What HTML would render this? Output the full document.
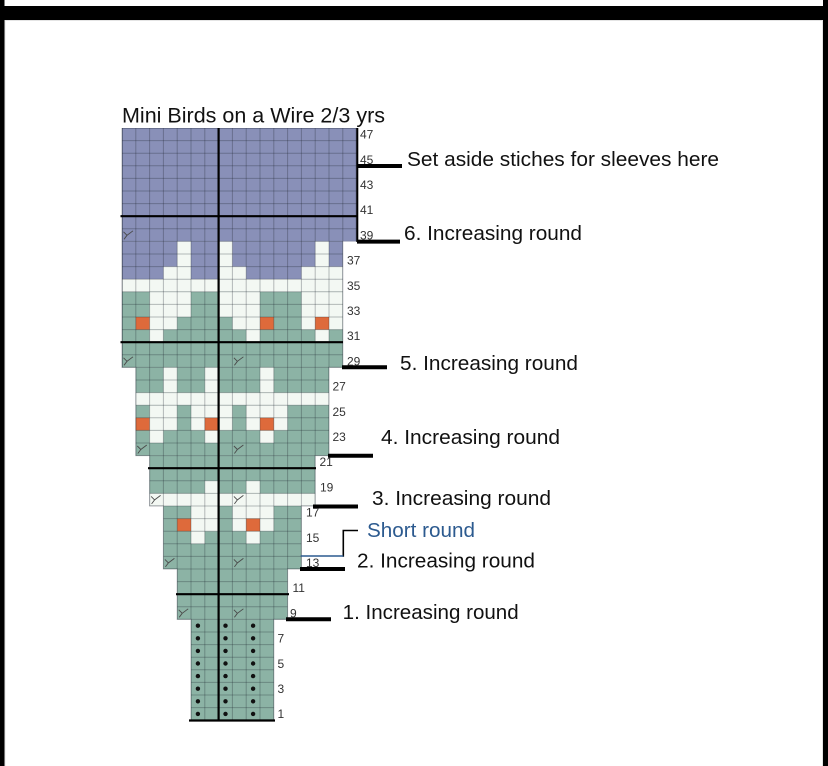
<!DOCTYPE html>
<html><head><meta charset="utf-8"><style>html,body{margin:0;padding:0;background:#fff;width:828px;height:766px;overflow:hidden}svg{display:block}</style></head>
<body>
<svg width="828" height="766" viewBox="0 0 828 766" xmlns="http://www.w3.org/2000/svg" font-family="'Liberation Sans', Arial, sans-serif">
<defs>
<clipPath id="chart">
<rect x="122" y="128" width="234.6" height="113.4"/>
<rect x="122" y="241.4" width="220.8" height="126"/>
<rect x="135.8" y="367.4" width="193.2" height="88.2"/>
<rect x="149.6" y="455.6" width="165.6" height="50.4"/>
<rect x="163.4" y="506" width="138" height="63"/>
<rect x="177.2" y="569" width="110.4" height="50.4"/>
<rect x="191" y="619.4" width="82.8" height="100.8"/>
</clipPath>
</defs>
<rect width="828" height="766" fill="#fff"/>
<rect x="0" y="0" width="4.5" height="766" fill="#000"/>
<rect x="823" y="0" width="5" height="766" fill="#000"/>
<rect x="0" y="6" width="828" height="14" fill="#000"/>
<rect x="5" y="20.5" width="817.5" height="746" fill="none" stroke="#e4e4e4" stroke-width="1"/>

<!-- base blocks -->
<g>
<rect x="122" y="128" width="234.6" height="113.4" fill="#8990b8"/>
<rect x="122" y="241.4" width="220.8" height="37.8" fill="#8990b8"/>
<rect x="122" y="279.2" width="220.8" height="12.6" fill="#f3f8f3"/>
<rect x="122" y="291.8" width="220.8" height="75.6" fill="#8cb3a5"/>
<rect x="135.8" y="367.4" width="193.2" height="88.2" fill="#8cb3a5"/>
<rect x="149.6" y="455.6" width="165.6" height="50.4" fill="#8cb3a5"/>
<rect x="163.4" y="506" width="138" height="63" fill="#8cb3a5"/>
<rect x="177.2" y="569" width="110.4" height="50.4" fill="#8cb3a5"/>
<rect x="191" y="619.4" width="82.8" height="100.8" fill="#8cb3a5"/>
</g>
<!-- white cells -->
<g fill="#f3f8f3">
<rect x="177.2" y="241.4" width="13.8" height="25.2"/>
<rect x="218.6" y="241.4" width="13.8" height="25.2"/>
<rect x="315.2" y="241.4" width="13.8" height="25.2"/>
<rect x="163.4" y="266.6" width="27.6" height="12.6"/>
<rect x="218.6" y="266.6" width="27.6" height="12.6"/>
<rect x="301.4" y="266.6" width="41.4" height="12.6"/>
<rect x="149.6" y="291.8" width="41.4" height="25.2"/>
<rect x="218.6" y="291.8" width="41.4" height="25.2"/>
<rect x="301.4" y="291.8" width="41.4" height="25.2"/>
<rect x="149.6" y="317" width="27.6" height="12.6"/>
<rect x="232.4" y="317" width="27.6" height="12.6"/>
<rect x="301.4" y="317" width="13.8" height="12.6"/>
<rect x="329" y="317" width="13.8" height="12.6"/>
<rect x="149.6" y="329.6" width="13.8" height="12.6"/>
<rect x="246.2" y="329.6" width="13.8" height="12.6"/>
<rect x="315.2" y="329.6" width="13.8" height="12.6"/>
<rect x="163.4" y="367.4" width="13.8" height="25.2"/>
<rect x="204.8" y="367.4" width="13.8" height="25.2"/>
<rect x="260" y="367.4" width="13.8" height="25.2"/>
<rect x="135.8" y="392.6" width="193.2" height="12.6"/>
<rect x="149.6" y="405.2" width="27.6" height="25.2"/>
<rect x="191" y="405.2" width="41.4" height="12.6"/>
<rect x="246.2" y="405.2" width="41.4" height="12.6"/>
<rect x="191" y="417.8" width="13.8" height="12.6"/>
<rect x="218.6" y="417.8" width="13.8" height="12.6"/>
<rect x="246.2" y="417.8" width="13.8" height="12.6"/>
<rect x="273.8" y="417.8" width="13.8" height="12.6"/>
<rect x="149.6" y="430.4" width="13.8" height="12.6"/>
<rect x="204.8" y="430.4" width="13.8" height="12.6"/>
<rect x="260" y="430.4" width="13.8" height="12.6"/>
<rect x="204.8" y="480.8" width="13.8" height="12.6"/>
<rect x="246.2" y="480.8" width="13.8" height="12.6"/>
<rect x="149.6" y="493.4" width="165.6" height="12.6"/>
<rect x="191" y="506" width="27.6" height="25.2"/>
<rect x="232.4" y="506" width="41.4" height="12.6"/>
<rect x="232.4" y="518.6" width="13.8" height="12.6"/>
<rect x="260" y="518.6" width="13.8" height="12.6"/>
<rect x="191" y="531.2" width="13.8" height="12.6"/>
<rect x="246.2" y="531.2" width="13.8" height="12.6"/>
</g>
<!-- orange cells -->
<g fill="#de6a3b">
<rect x="135.8" y="317" width="13.8" height="12.6"/>
<rect x="260" y="317" width="13.8" height="12.6"/>
<rect x="315.2" y="317" width="13.8" height="12.6"/>
<rect x="135.8" y="417.8" width="13.8" height="12.6"/>
<rect x="204.8" y="417.8" width="13.8" height="12.6"/>
<rect x="260" y="417.8" width="13.8" height="12.6"/>
<rect x="177.2" y="518.6" width="13.8" height="12.6"/>
<rect x="246.2" y="518.6" width="13.8" height="12.6"/>
</g>
<!-- fix row 16 col 6 white -->
<rect x="204.8" y="518.6" width="13.8" height="12.6" fill="#f3f8f3"/>

<!-- grid lines -->
<g clip-path="url(#chart)" stroke="#1e2630" stroke-opacity="0.3" stroke-width="1" fill="none">
<path d="M122.5 128V721M135.8 128V721M149.6 128V721M163.4 128V721M177.2 128V721M191 128V721M204.8 128V721M232.4 128V721M246.2 128V721M260 128V721M273.8 128V721M287.6 128V721M301.4 128V721M315.2 128V721M329 128V721M342.8 128V721M356.1 128V721"/>
<path d="M120 128.5H358M120 140.6H358M120 153.2H358M120 165.8H358M120 178.4H358M120 191H358M120 203.6H358M120 228.8H358M120 241.4H358M120 254H358M120 266.6H358M120 279.2H358M120 291.8H358M120 304.4H358M120 317H358M120 329.6H358M120 354.8H358M120 367.4H358M120 380H358M120 392.6H358M120 405.2H358M120 417.8H358M120 430.4H358M120 443H358M120 455.6H358M120 480.8H358M120 493.4H358M120 506H358M120 518.6H358M120 531.2H358M120 543.8H358M120 556.4H358M120 569H358M120 581.6H358M120 606.8H358M120 619.4H358M120 632H358M120 644.6H358M120 657.2H358M120 669.8H358M120 682.4H358M120 695H358M120 707.6H358"/>
</g>
<!-- outline edges -->
<path d="M122 128V367.4H135.8V455.6H149.6V506H163.4V569H177.2V619.4H191V720.2M273.8 720.2V619.4H287.6V569H301.4V506H315.2V455.6H329V367.4H342.8V241.4" fill="none" stroke="#1e2630" stroke-opacity="0.35" stroke-width="1"/>

<!-- increase markers -->
<g stroke="#4a4a4a" stroke-width="0.9" fill="none">
<path d="M123.5 231.8L127 235.3L133 230.8M127 235.3L124 239.3"/>
<path d="M123.5 357.8L127 361.3L133 356.8M127 361.3L124 365.3"/>
<path d="M233.9 357.8L237.4 361.3L243.4 356.8M237.4 361.3L234.4 365.3"/>
<path d="M137.3 446L140.8 449.5L146.8 445M140.8 449.5L137.8 453.5"/>
<path d="M233.9 446L237.4 449.5L243.4 445M237.4 449.5L234.4 453.5"/>
<path d="M151.1 496.4L154.6 499.9L160.6 495.4M154.6 499.9L151.6 503.9"/>
<path d="M233.9 496.4L237.4 499.9L243.4 495.4M237.4 499.9L234.4 503.9"/>
<path d="M164.9 559.4L168.4 562.9L174.4 558.4M168.4 562.9L165.4 566.9"/>
<path d="M233.9 559.4L237.4 562.9L243.4 558.4M237.4 562.9L234.4 566.9"/>
<path d="M178.7 609.8L182.2 613.3L188.2 608.8M182.2 613.3L179.2 617.3"/>
<path d="M233.9 609.8L237.4 613.3L243.4 608.8M237.4 613.3L234.4 617.3"/>
</g>

<!-- dots -->
<g fill="#111">
<circle cx="197.9" cy="625.7" r="2.2"/><circle cx="225.5" cy="625.7" r="2.2"/><circle cx="253.1" cy="625.7" r="2.2"/>
<circle cx="197.9" cy="638.3" r="2.2"/><circle cx="225.5" cy="638.3" r="2.2"/><circle cx="253.1" cy="638.3" r="2.2"/>
<circle cx="197.9" cy="650.9" r="2.2"/><circle cx="225.5" cy="650.9" r="2.2"/><circle cx="253.1" cy="650.9" r="2.2"/>
<circle cx="197.9" cy="663.5" r="2.2"/><circle cx="225.5" cy="663.5" r="2.2"/><circle cx="253.1" cy="663.5" r="2.2"/>
<circle cx="197.9" cy="676.1" r="2.2"/><circle cx="225.5" cy="676.1" r="2.2"/><circle cx="253.1" cy="676.1" r="2.2"/>
<circle cx="197.9" cy="688.7" r="2.2"/><circle cx="225.5" cy="688.7" r="2.2"/><circle cx="253.1" cy="688.7" r="2.2"/>
<circle cx="197.9" cy="701.3" r="2.2"/><circle cx="225.5" cy="701.3" r="2.2"/><circle cx="253.1" cy="701.3" r="2.2"/>
<circle cx="197.9" cy="713.9" r="2.2"/><circle cx="225.5" cy="713.9" r="2.2"/><circle cx="253.1" cy="713.9" r="2.2"/>
</g>

<!-- thick chart lines -->
<g stroke="#000" fill="none">
<path d="M218.6 128V721.5" stroke-width="2.2"/>
<path d="M120.5 216.2H357M120.5 342.2H343M148 468.2H316M176 594.2H289M189 720.5H275" stroke-width="2.2"/>
<path d="M357.3 128V242" stroke-width="2"/>
<path d="M357 166H402M357 241.6H400M342 367.2H387M328 455.7H373M313 506.5H358M300 569H345M286 619.2H331" stroke-width="4"/>
<path d="M343.3 556.8V530.5H358" stroke-width="1.6"/>
</g>
<path d="M300.7 556H343.3" stroke="#2c5a8f" stroke-width="1.6"/>

<!-- row numbers -->
<g font-size="12" fill="#333">
<text x="360" y="138.6">47</text>
<text x="360" y="163.8">45</text>
<text x="360" y="189">43</text>
<text x="360" y="214.2">41</text>
<text x="360" y="239.4">39</text>
<text x="347" y="264.6">37</text>
<text x="347" y="289.8">35</text>
<text x="347" y="315">33</text>
<text x="347" y="340.2">31</text>
<text x="347" y="365.4">29</text>
<text x="332.5" y="390.6">27</text>
<text x="332.5" y="415.8">25</text>
<text x="332.5" y="441">23</text>
<text x="319.5" y="466.2">21</text>
<text x="320" y="491.4">19</text>
<text x="306" y="516.6">17</text>
<text x="306" y="541.8">15</text>
<text x="306" y="567">13</text>
<text x="292.5" y="592.2">11</text>
<text x="290" y="617.4">9</text>
<text x="277.5" y="642.6">7</text>
<text x="277.5" y="667.8">5</text>
<text x="277.5" y="693">3</text>
<text x="277.5" y="718.2">1</text>
</g>

<!-- title & labels -->
<text x="122" y="122.7" font-size="21.5" fill="#111" textLength="263" lengthAdjust="spacingAndGlyphs">Mini Birds on a Wire 2/3 yrs</text>
<g font-size="20" fill="#111">
<text x="407" y="166" textLength="312" lengthAdjust="spacingAndGlyphs">Set aside stiches for sleeves here</text>
<text x="404" y="240" textLength="178" lengthAdjust="spacingAndGlyphs">6. Increasing round</text>
<text x="400" y="370" textLength="178" lengthAdjust="spacingAndGlyphs">5. Increasing round</text>
<text x="381" y="444" textLength="179" lengthAdjust="spacingAndGlyphs">4. Increasing round</text>
<text x="372" y="505" textLength="179" lengthAdjust="spacingAndGlyphs">3. Increasing round</text>
<text x="367" y="537" textLength="108" lengthAdjust="spacingAndGlyphs" fill="#2c5a8f">Short round</text>
<text x="357" y="567.7" textLength="178" lengthAdjust="spacingAndGlyphs">2. Increasing round</text>
<text x="342.7" y="619" textLength="176" lengthAdjust="spacingAndGlyphs">1. Increasing round</text>
</g>
</svg>
</body></html>
